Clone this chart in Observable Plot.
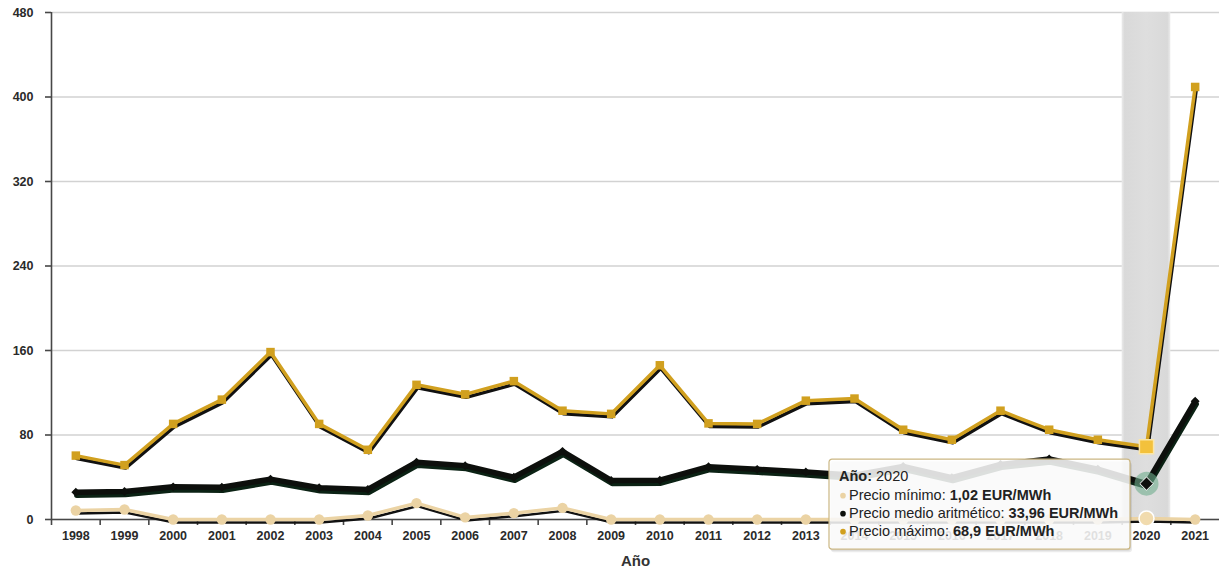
<!DOCTYPE html>
<html>
<head>
<meta charset="utf-8">
<script src="https://cdn.jsdelivr.net/npm/d3@7"></script>
<script src="https://cdn.jsdelivr.net/npm/@observablehq/plot@0.6"></script>
<style>
  html, body { margin: 0; padding: 0; background: #fff; }
  #chart { width: 1219px; height: 574px; }
</style>
</head>
<body>
<div id="chart"></div>
<script>
// Precio de la electricidad en el mercado diario (EUR/MWh), 1998–2021
const years = [1998, 1999, 2000, 2001, 2002, 2003, 2004, 2005, 2006, 2007, 2008, 2009,
               2010, 2011, 2012, 2013, 2014, 2015, 2016, 2017, 2018, 2019, 2020, 2021];
const precioMinimo = [8.5, 9.5, 0, 0, 0, 0, 3.8, 15.5, 2, 6, 11, 0,
                      0, 0, 0, 0, 0, 0, 0, 0, 0, 0, 1.02, 0];
const precioMedio = [25.9, 26.5, 30.9, 30.5, 38.2, 30, 28.5, 54.3, 51, 40, 64.5, 37,
                     37.2, 50, 47.5, 45, 42, 50.3, 39.7, 52.2, 57.3, 47.7, 33.96, 112];
const precioMaximo = [60.5, 51.5, 90.5, 113.5, 158.5, 90.5, 66, 127.5, 118.5, 131, 103, 100,
                      146, 91, 90.5, 112.5, 114.5, 85, 75.5, 103, 85, 75.5, 68.9, 409.5];
const yTicks = [0, 80, 160, 240, 320, 400, 480];
const seriesNames = ["Precio mínimo", "Precio medio aritmético", "Precio máximo"];
const unit = "EUR/MWh";
const selectedYear = 2020;

const colMin = "#ebd3a4", colMed = "#0d0f0c", colMax = "#d1a01f";
const font = "'Liberation Sans', Arial, Helvetica, sans-serif";

const rows = vals => years.map((year, i) => ({year, value: vals[i]}));
const dMin = rows(precioMinimo), dMed = rows(precioMedio), dMax = rows(precioMaximo);
const sel = d => d.year === selectedYear;
const bandEdges = [years[0] - 0.5, ...years.slice(0, -1).map(y => y + 0.5)];
const yTop = yTicks[yTicks.length - 1];

const plot = Plot.plot({
  width: 1219,
  height: 574,
  marginTop: 12,
  marginBottom: 55,
  marginLeft: 51,
  marginRight: 0,
  style: {fontFamily: font, background: "#fff", overflow: "visible"},
  x: {domain: [years[0] - 0.5, years[years.length - 1] + 0.5]},
  y: {domain: [0, yTop]},
  marks: [
    // gridlines
    Plot.gridY(yTicks, {stroke: "#d2d2d2", strokeOpacity: 1, strokeWidth: 1.5}),
    // highlighted year column
    Plot.rect([selectedYear], {x1: d => d - 0.5, x2: d => d + 0.5, y1: () => 0, y2: () => yTop, fill: "url(#hlgrad)"}),
    // axes
    Plot.ruleX([bandEdges[0]], {y1: 0, y2: yTop, stroke: "#474747", strokeWidth: 1.6}),
    Plot.ruleY([0], {stroke: "#474747", strokeWidth: 1.6}),
    Plot.axisX({ticks: bandEdges, tickSize: 6, tickFormat: () => "", stroke: "#474747", strokeWidth: 1.6, label: null}),
    Plot.axisX({ticks: years, tickSize: 0, tickPadding: 12, tickFormat: d => String(d), fontSize: 12.5, fontWeight: "bold", fill: "#2a2a2a", label: null}),
    Plot.axisY({ticks: yTicks, tickSize: 6, tickPadding: 12, fontSize: 12.5, fontWeight: "bold", fill: "#2a2a2a", stroke: "#474747", strokeWidth: 1.6, label: null}),
    Plot.text(["Año"], {frameAnchor: "bottom", dy: 46, fontSize: 15, fontWeight: "bold", fill: "#333"}),

    // precio mínimo
    Plot.line(dMin, {x: "year", y: "value", stroke: "#111", strokeWidth: 2.5, dx: 1, dy: 3}),
    Plot.line(dMin, {x: "year", y: "value", stroke: colMin, strokeWidth: 3.5}),
    Plot.dot(dMin.filter(d => !sel(d)), {x: "year", y: "value", r: 5.2, fill: colMin}),

    // precio medio aritmético
    Plot.line(dMed, {x: "year", y: "value", stroke: "#0b2214", strokeWidth: 5.5, dx: 1, dy: 3}),
    Plot.line(dMed, {x: "year", y: "value", stroke: colMed, strokeWidth: 5.5}),
    Plot.dot(dMed.filter(d => !sel(d)), {x: "year", y: "value", symbol: "diamond2", r: 4, fill: colMed}),

    // precio máximo
    Plot.line(dMax, {x: "year", y: "value", stroke: "#111", strokeWidth: 3.5, dx: 1, dy: 3}),
    Plot.line(dMax, {x: "year", y: "value", stroke: colMax, strokeWidth: 3.5}),
    Plot.dot(dMax.filter(d => !sel(d)), {x: "year", y: "value", symbol: "square", r: 4.8, fill: colMax}),

    // hovered year
    Plot.dot(dMed.filter(sel), {x: "year", y: "value", r: 12, fill: "#6fae8e", fillOpacity: 0.6}),
    Plot.dot(dMed.filter(sel), {x: "year", y: "value", symbol: "diamond2", r: 6, fill: colMed, stroke: "#fff", strokeWidth: 1}),
    Plot.dot(dMax.filter(sel), {x: "year", y: "value", symbol: "square", r: 8, fill: "#f3c13c", stroke: "#fbe6a6", strokeWidth: 1.5}),
    Plot.dot(dMin.filter(sel), {x: "year", y: "value", r: 7.5, fill: "#f1dbae", stroke: "#fff", strokeWidth: 1.5})
  ]
});

const svg = d3.select(plot);
const defs = svg.insert("defs", ":first-child");
const g = defs.append("linearGradient").attr("id", "hlgrad").attr("x1", 0).attr("x2", 1).attr("y1", 0).attr("y2", 0);
[[0, "#ebebeb"], [0.06, "#d9d9d9"], [0.5, "#dedede"], [0.94, "#d9d9d9"], [1, "#ececec"]]
  .forEach(([o, c]) => g.append("stop").attr("offset", o).attr("stop-color", c));

// tooltip for the hovered year
const xs = plot.scale("x"), ys = plot.scale("y");
const i = years.indexOf(selectedYear);
const px = xs.apply(selectedYear), py = ys.apply(precioMedio[i]);
const tip = svg.append("g").attr("transform", `translate(${px - 317},${py - 24})`)
  .style("font-family", font).attr("text-anchor", "start");
const tw = 301, th = 90;
tip.append("rect").attr("x", 2).attr("y", 3).attr("width", tw).attr("height", th).attr("rx", 3).attr("fill", "#000").attr("fill-opacity", 0.08);
tip.append("rect").attr("x", 1).attr("y", 1.5).attr("width", tw).attr("height", th).attr("rx", 3).attr("fill", "#000").attr("fill-opacity", 0.08);
tip.append("rect").attr("width", tw).attr("height", th).attr("rx", 3)
  .attr("fill", "#fff").attr("fill-opacity", 0.86).attr("stroke", "#cbb784").attr("stroke-width", 1.2);
const head = tip.append("text").attr("x", 10).attr("y", 22).attr("font-size", 14.5).attr("fill", "#222");
head.append("tspan").attr("font-weight", "bold").text("Año:");
head.append("tspan").text(" " + selectedYear);
const tipVals = [precioMinimo[i], precioMedio[i], precioMaximo[i]];
const tipCols = [colMin, colMed, colMax];
seriesNames.forEach((name, k) => {
  const yy = 41 + k * 18;
  tip.append("circle").attr("cx", 14).attr("cy", yy - 4.5).attr("r", 2.8).attr("fill", tipCols[k]);
  const t = tip.append("text").attr("x", 20).attr("y", yy).attr("font-size", 14.5).attr("fill", "#222");
  t.append("tspan").text(name + ": ");
  t.append("tspan").attr("font-weight", "bold").text(String(tipVals[k]).replace(".", ",") + " " + unit);
});

document.getElementById("chart").appendChild(plot);
</script>
</body>
</html>
